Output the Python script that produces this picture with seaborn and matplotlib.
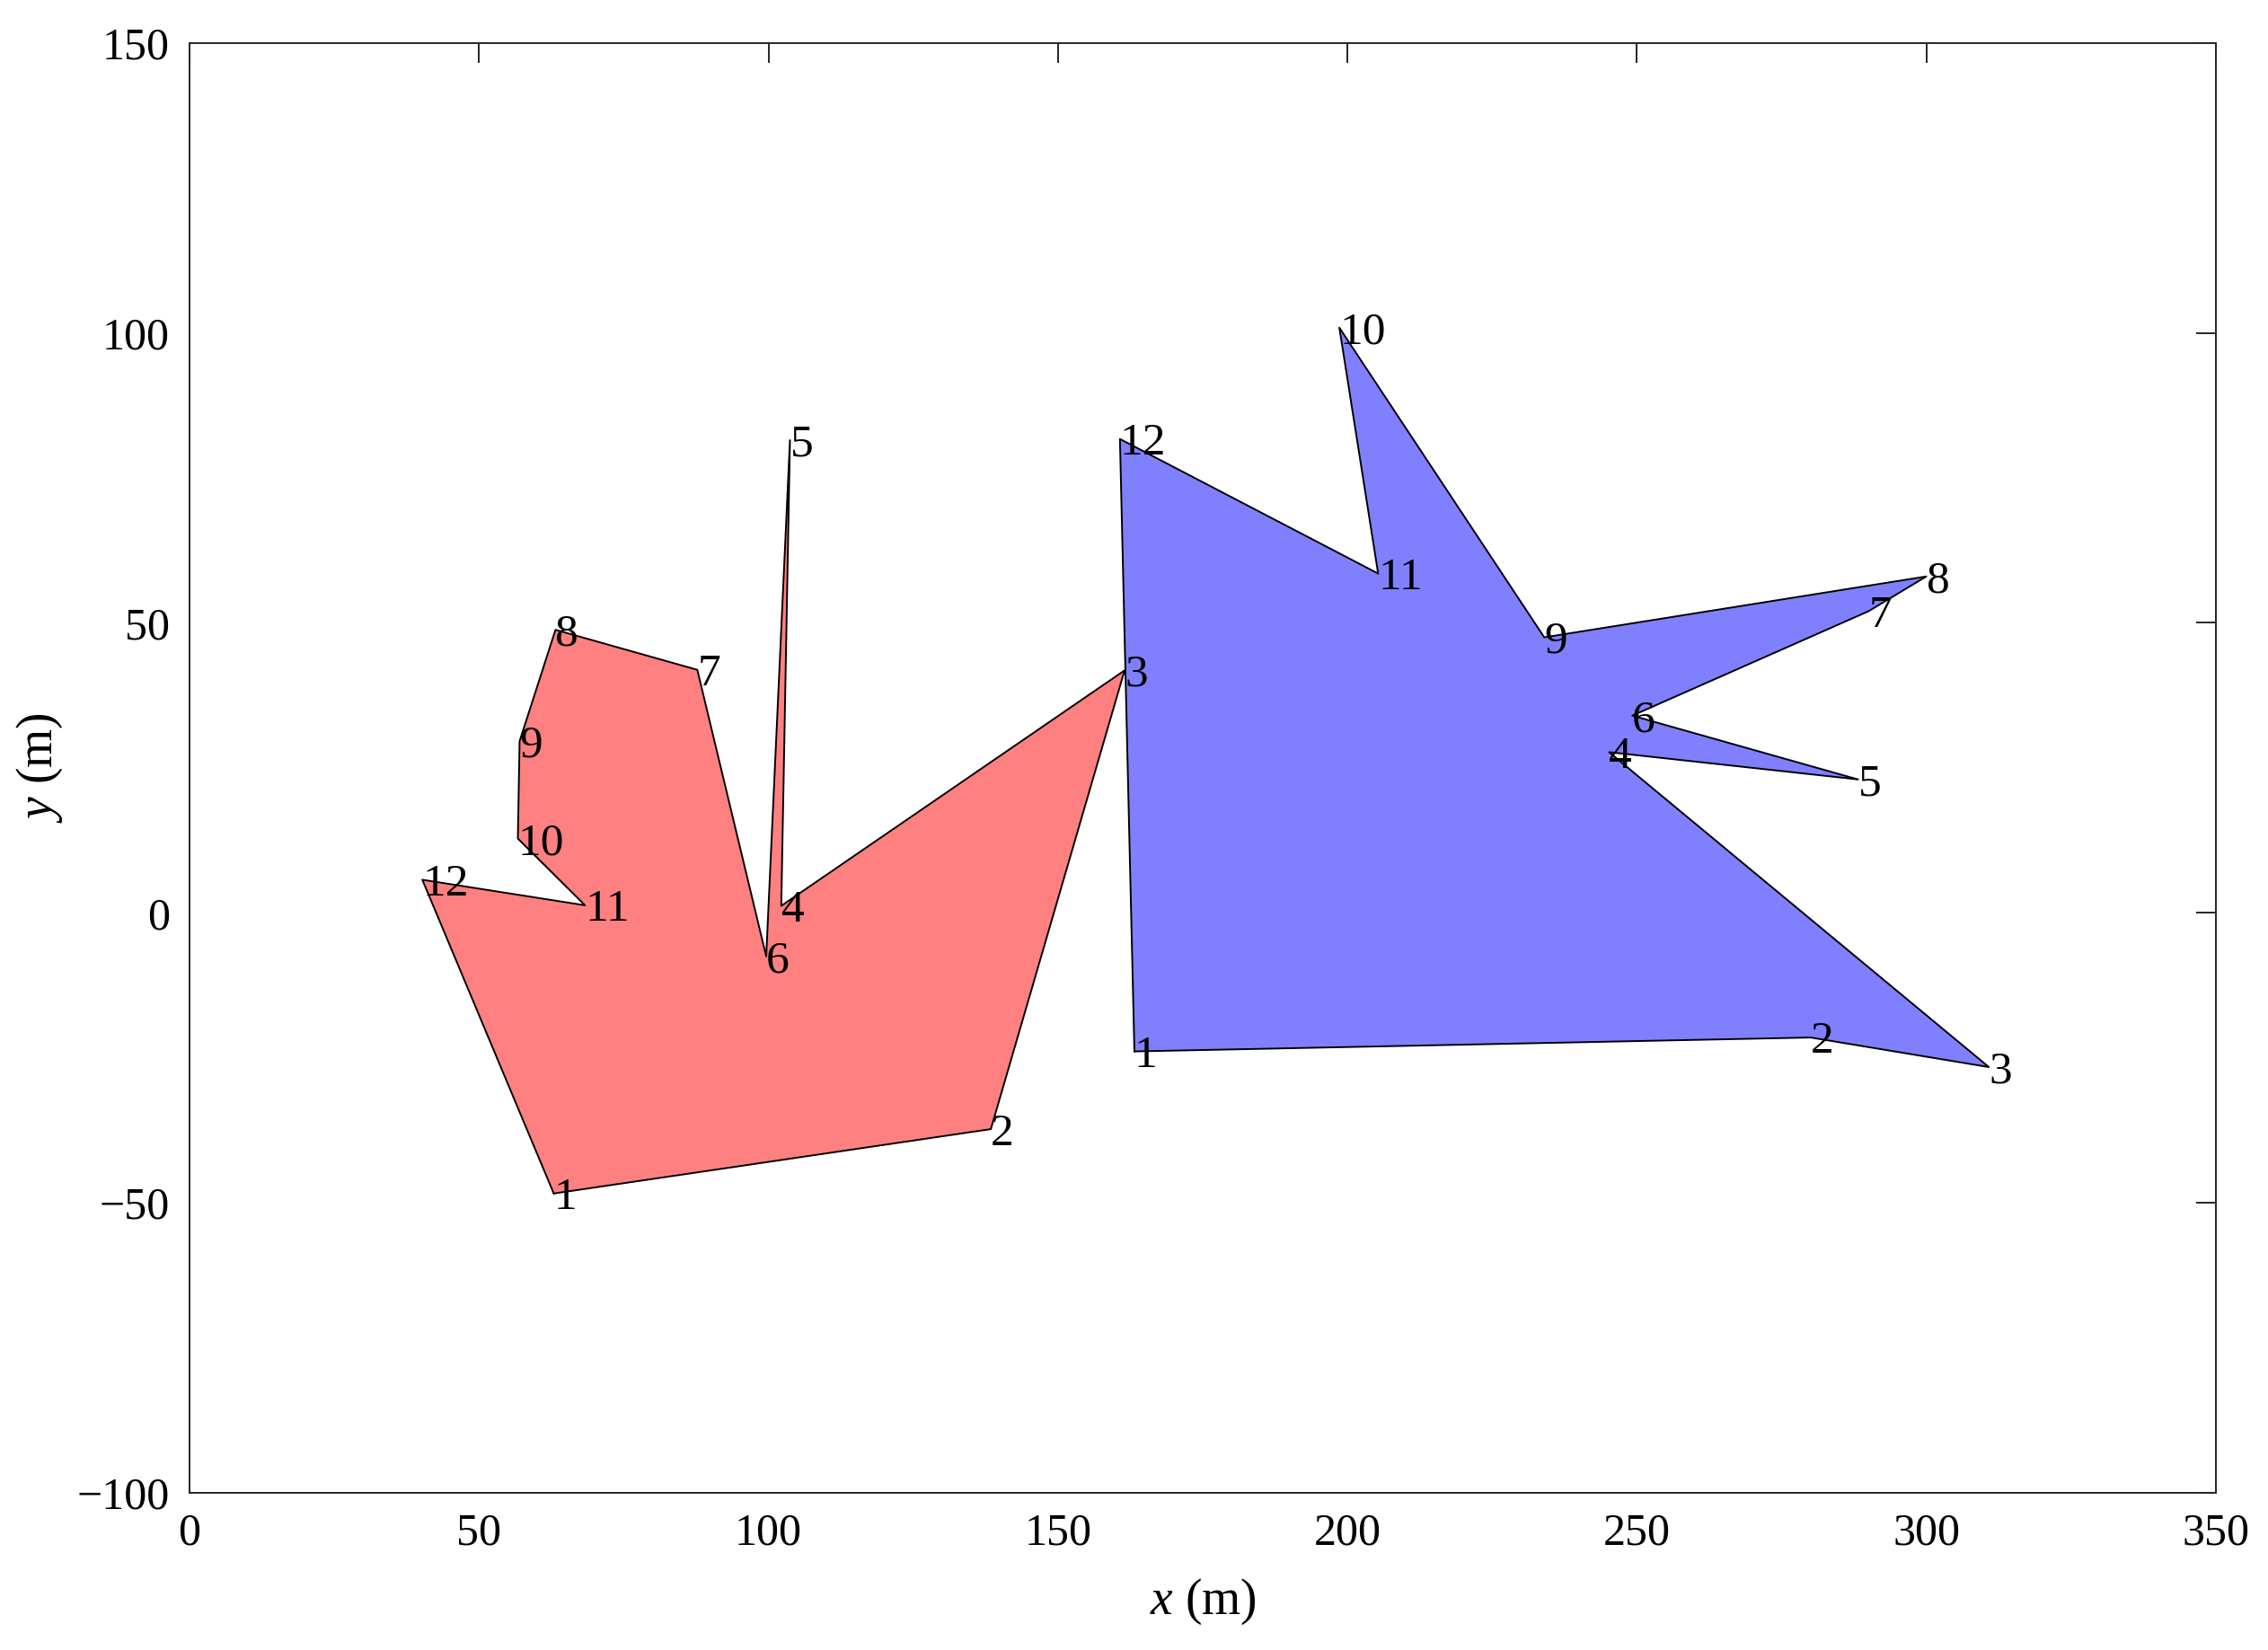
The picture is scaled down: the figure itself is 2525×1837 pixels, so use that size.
import matplotlib
matplotlib.use("Agg")
import matplotlib.pyplot as plt
import seaborn as sns
import pandas as pd

# Polygon vertices (metres)
red_x = [62.9, 138.4, 161.5, 102.2, 103.7, 99.6, 87.7, 63.2, 57.0, 56.7, 68.3, 40.2]
red_y = [-48.4, -37.3, 41.8, 1.2, 81.5, -7.5, 41.9, 48.8, 29.6, 12.8, 1.3, 5.7]
blue_x = [163.2, 280.0, 310.8, 245.2, 288.2, 249.2, 290.0, 300.0, 234.0, 198.6, 205.3, 160.7]
blue_y = [-23.9, -21.5, -26.6, 27.7, 23.0, 34.0, 52.0, 58.0, 47.5, 100.9, 58.5, 81.7]
vertex_labels = [str(i) for i in range(1, 13)]

x_ticks = [0, 50, 100, 150, 200, 250, 300, 350]
y_ticks = [-100, -50, 0, 50, 100, 150]

sns.set_theme(style="white")
plt.rcParams['font.family'] = ['Liberation Serif', 'DejaVu Serif']
plt.rcParams['mathtext.fontset'] = 'custom'
plt.rcParams['mathtext.rm'] = 'Liberation Serif'
plt.rcParams['mathtext.it'] = 'Liberation Serif:italic'
plt.rcParams['axes.unicode_minus'] = True
plt.rcParams['axes.labelcolor'] = 'black'
plt.rcParams['text.color'] = 'black'

fig = plt.figure(figsize=(12.625, 9.185), dpi=200)
ax = fig.add_axes([0.0836, 0.0953, 0.977 - 0.0836, 0.974 - 0.0953])

polys = [(red_x, red_y, '#FF8080'), (blue_x, blue_y, '#8080FF')]
for xs, ys, col in polys:
    ax.fill(xs, ys, facecolor=col, edgecolor='none', zorder=1)
    df = pd.DataFrame({'x': xs + [xs[0]], 'y': ys + [ys[0]]})
    sns.lineplot(data=df, x='x', y='y', sort=False, estimator=None,
                 color='black', linewidth=0.7, ax=ax, zorder=2)
    for lx, ly, lab in zip(xs, ys, vertex_labels):
        ax.text(lx, ly - 0.8, lab, ha='left', va='center', fontsize=18.5,
                color='black', zorder=3)

ax.set_xlim(0, 350)
ax.set_ylim(-100, 150)
ax.set_xticks(x_ticks)
ax.set_yticks(y_ticks)
ax.tick_params(direction='in', length=8, width=0.6, top=True, right=True,
               labelsize=18, colors='black', pad=8)
for s in ax.spines.values():
    s.set_color('#262626')
    s.set_linewidth(0.7)
ax.set_xlabel(r'$x$ (m)', fontsize=20, labelpad=9, color='black')
ax.set_ylabel(r'$y$ (m)', fontsize=20, labelpad=5, color='black')

fig.savefig('out.png', dpi=200)
